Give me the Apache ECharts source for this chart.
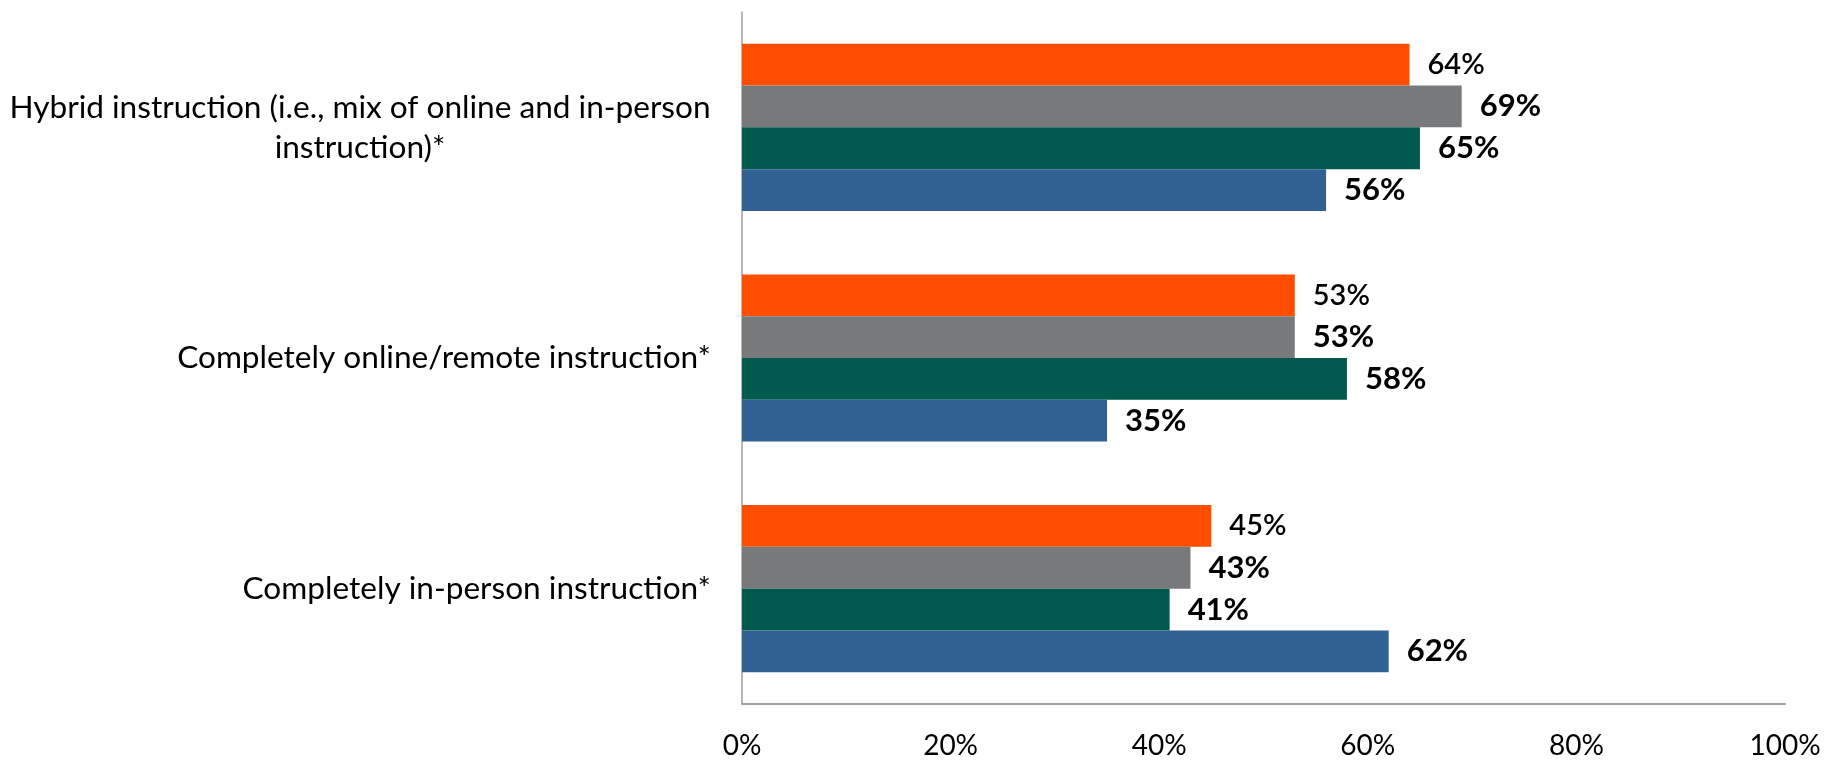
<!DOCTYPE html>
<html>
<head>
<meta charset="utf-8">
<script src="https://cdn.jsdelivr.net/npm/echarts@6/dist/echarts.min.js"></script>
<style>
html,body{margin:0;padding:0;background:#fff;}
#chart{width:1829px;height:760px;}
</style>
</head>
<body>
<div id="chart"></div>
<script>
const categories = [
  "Hybrid instruction (i.e., mix of online and in-person\ninstruction)*",
  "Completely online/remote instruction*",
  "Completely in-person instruction*"
];
const seriesA = [64, 53, 45]; // orange
const seriesB = [69, 53, 43]; // gray
const seriesC = [65, 58, 41]; // green
const seriesD = [56, 35, 62]; // blue
const xTicks = [0, 20, 40, 60, 80, 100];

const FONT = 'Lato';
const catFont = 31.6;

function measure(text, size, weight) {
  const c = document.createElement('canvas').getContext('2d');
  c.font = (weight || 'normal') + ' ' + size + 'px ' + FONT;
  return c.measureText(text).width;
}

const chart = echarts.init(document.getElementById('chart'));

function labelCfg(size, weight) {
  return {
    show: true, position: 'right', distance: 18,
    formatter: '{c}%', color: '#000', fontFamily: FONT,
    fontSize: size, fontWeight: weight
  };
}

function mkSeries(name, data, color, lsize, lweight) {
  return {
    name: name, type: 'bar', data: data,
    barGap: '0%', barCategoryGap: '27.5%',
    itemStyle: { color: color },
    label: labelCfg(lsize, lweight)
  };
}

const richStyles = {};
categories.forEach((c, i) => {
  if (c.indexOf('\n') >= 0) {
    const lines = c.split('\n');
    const w = Math.max(...lines.map(l => measure(l, catFont)));
    richStyles['m' + i] = { width: Math.ceil(w), align: 'center', fontSize: catFont, fontFamily: FONT, color: '#000', lineHeight: 40 };
  }
});

chart.setOption({
  animation: false,
  backgroundColor: '#fff',
  grid: { left: 742, right: 44, top: 12, bottom: 56, containLabel: false, outerBoundsMode: 'none' },
  xAxis: {
    type: 'value', min: xTicks[0], max: xTicks[xTicks.length - 1], interval: xTicks[1] - xTicks[0],
    axisLine: { show: true, lineStyle: { color: '#a0a0a0', width: 2 } },
    axisTick: { show: false },
    splitLine: { show: false },
    axisLabel: { formatter: '{value}%', color: '#000', fontFamily: FONT, fontSize: 28, margin: 28 }
  },
  yAxis: {
    type: 'category', data: categories, inverse: true,
    axisLine: { show: true, lineStyle: { color: '#a0a0a0', width: 1.5 } },
    axisTick: { show: false },
    axisLabel: {
      color: '#000', fontFamily: FONT, fontSize: catFont, margin: 31, lineHeight: 40,
      formatter: function (v, i) {
        if (richStyles['m' + i]) return '{m' + i + '|' + v + '}';
        return v;
      },
      rich: richStyles
    }
  },
  series: [
    mkSeries('A', seriesA, '#FF4E00', 29, 600),
    mkSeries('B', seriesB, '#78797B', 31, 'bold'),
    mkSeries('C', seriesC, '#02594E', 31, 'bold'),
    mkSeries('D', seriesD, '#316092', 31, 'bold')
  ]
});
</script>
</body>
</html>
